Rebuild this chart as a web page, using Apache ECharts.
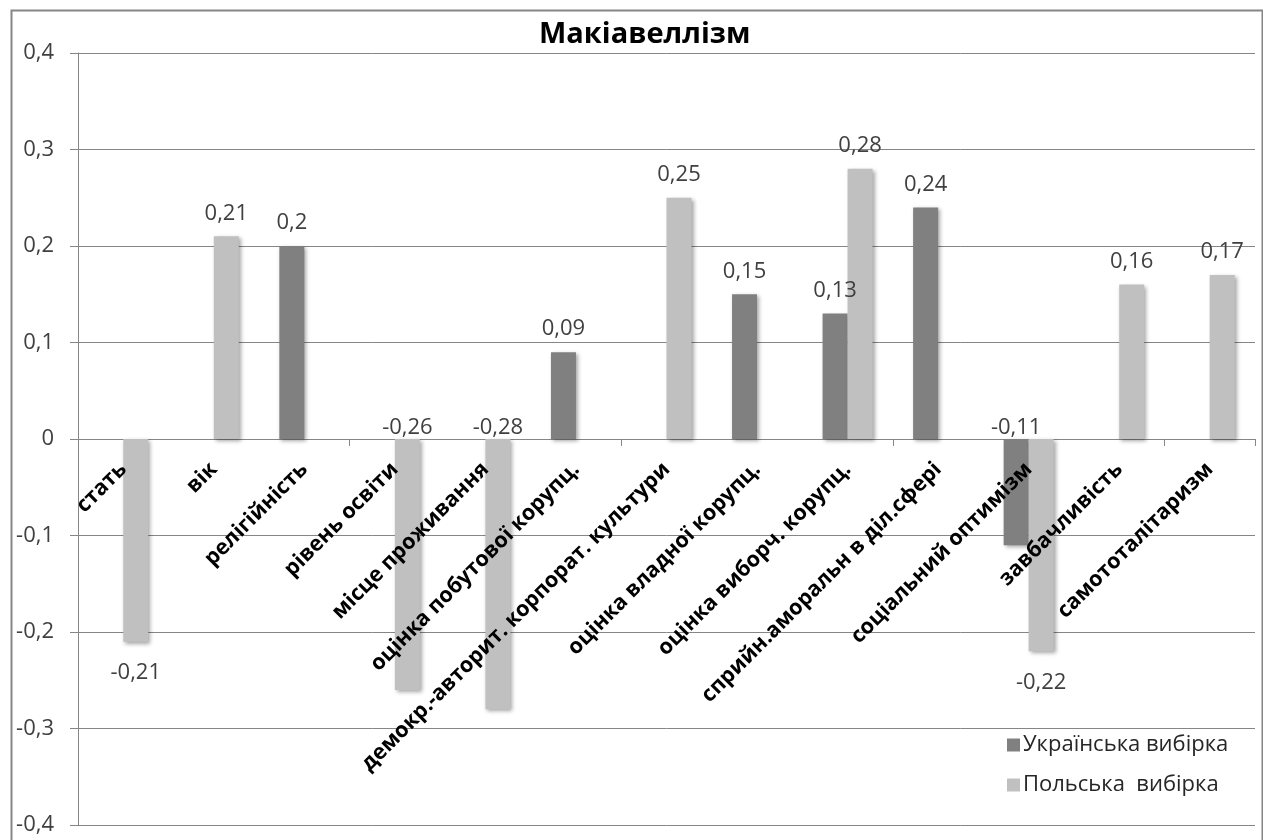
<!DOCTYPE html>
<html>
<head>
<meta charset="utf-8">
<script src="https://cdn.jsdelivr.net/npm/echarts@6/dist/echarts.min.js"></script>
<style>
html,body{margin:0;padding:0;background:#fff;}
#chart{width:1263px;height:840px;}
</style>
</head>
<body>
<div id="chart"></div>
<script>
const categories = [
  'стать', 'вік', 'релігійність', 'рівень освіти', 'місце проживання',
  'оцінка побутової корупц.', 'демокр.-авторит. корпорат. культури',
  'оцінка владної корупц.', 'оцінка виборч. корупц.', 'сприйн.аморальн в діл.сфері',
  'соціальний оптимізм', 'завбачливість', 'самототалітаризм'
];
const seriesNames = ['Українська вибірка', 'Польська  вибірка'];
const ukrValues = [null, null, 0.2, null, null, 0.09, null, 0.15, 0.13, 0.24, -0.11, null, null];
const polValues = [-0.21, 0.21, null, -0.26, -0.28, null, 0.25, null, 0.28, null, -0.22, 0.16, 0.17];
const yTicks = { min: -0.4, max: 0.4, interval: 0.1 };

// labels that Excel placed at the bar base (above the zero line)
const ukrBaseLabels = [10];
const polBaseLabels = [3, 4];

const FONT = '"Open Sans", "DejaVu Sans", sans-serif';
const fmt = v => String(Math.round(v * 100) / 100).replace('.', ',');

// layout of the plot area
const G = { left: 78, right: 8, top: 53, bottom: 15 };
const plotH = 840 - G.top - G.bottom;
const zeroOffset = plotH * (yTicks.max / (yTicks.max - yTicks.min)); // distance from top to zero line

function buildData(values, baseIdx) {
  return values.map((v, i) => {
    if (v === null) return { value: null };
    const item = { value: v };
    if (baseIdx.indexOf(i) >= 0) {
      item.label = { position: 'top', distance: 0 };
    } else if (v < 0) {
      item.label = { position: 'bottom', distance: 20 };
    }
    return item;
  });
}

const shadow = { shadowColor: 'rgba(0,0,0,0.35)', shadowBlur: 4, shadowOffsetX: 2, shadowOffsetY: 2 };
const labelStyle = {
  show: true, position: 'top', distance: 12, color: '#404040',
  fontFamily: FONT, fontSize: 22,
  formatter: p => (p.value === null || p.value === undefined) ? '' : fmt(p.value)
};

const chart = echarts.init(document.getElementById('chart'), null, { renderer: 'canvas' });
chart.setOption({
  animation: false,
  backgroundColor: '#fff',
  title: {
    text: 'Макіавеллізм', left: 534, top: 15,
    textStyle: { fontFamily: FONT, fontSize: 29, fontWeight: 'bold', color: '#000' }
  },
  legend: {
    orient: 'vertical', left: 1002, top: 729,
    itemWidth: 13, itemHeight: 13, itemGap: 18,
    icon: 'rect',
    textStyle: { fontFamily: FONT, fontSize: 22, color: '#262626', padding: [0, 0, 0, -2] },
    itemStyle: { shadowBlur: 0, shadowOffsetX: 0, shadowOffsetY: 0 },
    data: seriesNames
  },
  grid: [
    { left: G.left, right: G.right, top: G.top, bottom: G.bottom, containLabel: false, outerBoundsMode: 'none' },
    { left: G.left, right: G.right, top: G.top, height: zeroOffset, containLabel: false, outerBoundsMode: 'none' }
  ],
  xAxis: [
    {
      type: 'category', data: categories, gridIndex: 0,
      axisLine: { onZero: true, lineStyle: { color: '#868686', width: 1 } },
      axisTick: { show: true, length: 7, lineStyle: { color: '#868686' } },
      axisLabel: { show: false },
      splitLine: { show: false }
    },
    {
      type: 'category', data: categories, gridIndex: 1, position: 'bottom', z: 10,
      axisLine: { show: false }, axisTick: { show: false }, splitLine: { show: false },
      axisLabel: {
        interval: 0, rotate: 45, margin: 27, hideOverlap: false,
        fontFamily: FONT, fontSize: 21.5, fontWeight: 'bold', color: '#000'
      }
    }
  ],
  yAxis: [
    {
      type: 'value', gridIndex: 0, min: yTicks.min, max: yTicks.max, interval: yTicks.interval,
      axisLine: { show: true, lineStyle: { color: '#868686' } },
      axisTick: { show: true, length: 8, lineStyle: { color: '#868686' } },
      axisLabel: {
        margin: 24, fontFamily: FONT, fontSize: 22, color: '#404040',
        formatter: v => fmt(v)
      },
      splitLine: { show: true, lineStyle: { color: '#868686', width: 1 } }
    },
    {
      type: 'value', gridIndex: 1, min: 0, max: 1, show: false
    }
  ],
  series: [
    {
      name: seriesNames[0], type: 'bar', barWidth: 25, barGap: '0%',
      xAxisIndex: 0, yAxisIndex: 0,
      itemStyle: Object.assign({ color: '#808080' }, shadow),
      label: labelStyle,
      data: buildData(ukrValues, ukrBaseLabels)
    },
    {
      name: seriesNames[1], type: 'bar', barWidth: 25, barGap: '0%',
      xAxisIndex: 0, yAxisIndex: 0,
      itemStyle: Object.assign({ color: '#c0c0c0' }, shadow),
      label: labelStyle,
      data: buildData(polValues, polBaseLabels)
    }
  ],
  graphic: [{
    type: 'rect', left: 9, top: 8, z: -1, silent: true,
    shape: { width: 1251, height: 840 },
    style: { fill: 'none', stroke: '#868686', lineWidth: 2 }
  }]
});
</script>
</body>
</html>
